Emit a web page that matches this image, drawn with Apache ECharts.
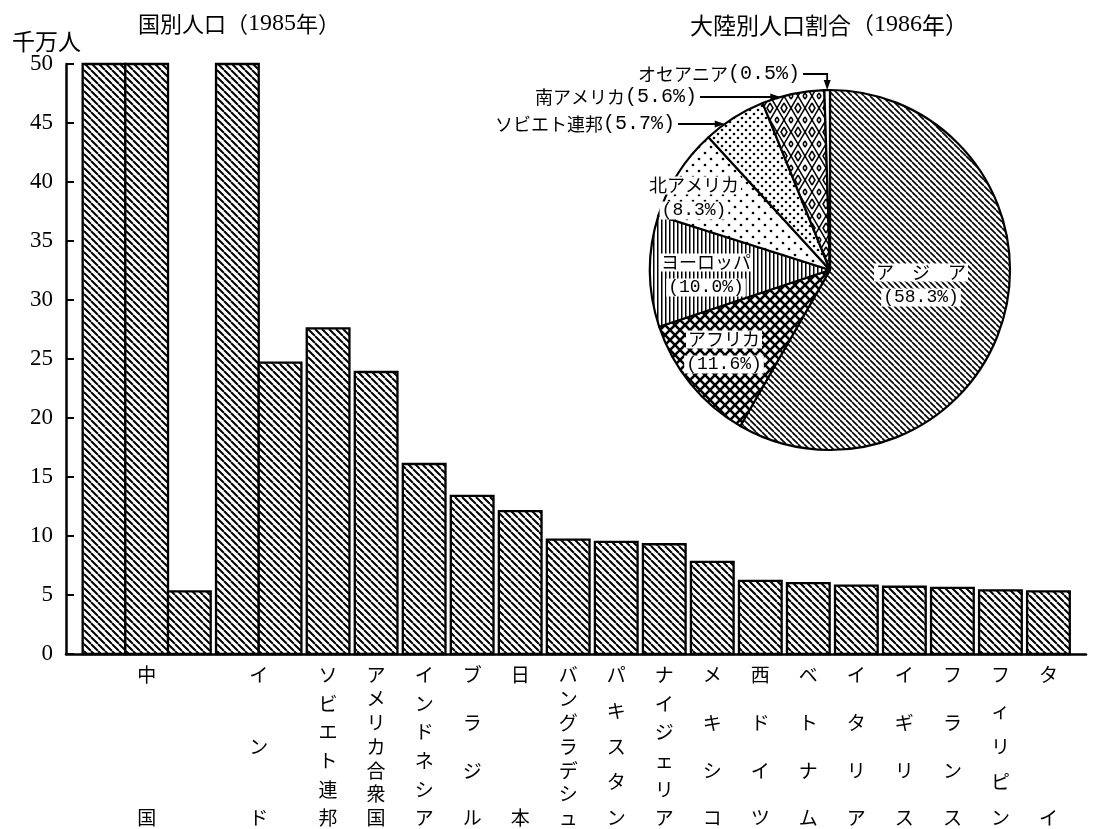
<!DOCTYPE html>
<html><head><meta charset="utf-8">
<script src="https://cdn.jsdelivr.net/npm/echarts@6/dist/echarts.min.js"></script>
<style>html,body{margin:0;padding:0;background:#fff}#c{width:1094px;height:829px}</style>
</head><body><div id="c"></div>
<script>
// ---------- data ----------
const countries = ['中国','インド','ソビエト連邦','アメリカ合衆国','インドネシア','ブラジル','日本','バングラデシュ','パキスタン','ナイジェリア','メキシコ','西ドイツ','ベトナム','イタリア','イギリス','フランス','フィリピン','タイ'];
const population = [105.3, 74.7, 27.6, 23.9, 16.1, 13.4, 12.1, 9.7, 9.5, 9.3, 7.8, 6.2, 6.0, 5.8, 5.7, 5.6, 5.4, 5.3]; // 千万人
const yMin = 0, yMax = 50, yStep = 5;
const continents = ['アジア','アフリカ','ヨーロッパ','北アメリカ','ソビエト連邦','南アメリカ','オセアニア'];
const shares = [58.3, 11.6, 10.0, 8.3, 5.7, 5.6, 0.5]; // %

// ---------- layout / style ----------
const CJK = '"Noto Sans CJK JP"';
const LEAD = 0.39, GAP = 0.125, TRAIL = 0.38;
const PIE_CX = 830, PIE_CY = 270, PIE_R = 180;
const pieLabelMode = ['in','in','in','in','side','side','down'];
const pieLabelOffset = [[91,15],[-106,82],[-124,5],[-136,-72],[-155,-146],[-133,-173],[-30,-196]];

function tile(w, h, draw) {
  const c = document.createElement('canvas'); c.width = w; c.height = h;
  const g = c.getContext('2d');
  g.fillStyle = '#fff'; g.fillRect(0, 0, w, h);
  g.strokeStyle = '#000'; g.fillStyle = '#000';
  draw(g, w, h);
  return { image: c, repeat: 'repeat' };
}
function back(g, s, lw) { g.lineWidth = lw; g.beginPath(); for (let k = -1; k <= 1; k++) { g.moveTo(k*s, 0); g.lineTo(k*s + s, s); } g.stroke(); }
function fwd(g, s, lw) { g.lineWidth = lw; g.beginPath(); for (let k = -1; k <= 1; k++) { g.moveTo(k*s, s); g.lineTo(k*s + s, 0); } g.stroke(); }
function dots(g, pts, r) { pts.forEach(p => { g.beginPath(); g.arc(p[0], p[1], r, 0, Math.PI*2); g.fill(); }); }

const barPattern = tile(7, 7, g => back(g, 7, 2.0));
const piePatterns = [
  tile(6, 6, g => back(g, 6, 1.6)),
  tile(10, 10, g => { back(g, 10, 2.6); fwd(g, 10, 2.6); }),
  tile(4, 4, g => g.fillRect(1, 0, 1.5, 4)),
  tile(12, 12, g => dots(g, [[3,3],[9,9]], 1.35)),
  tile(8, 8, g => dots(g, [[2,2],[6,6]], 1.3)),
  tile(14, 24, g => {
    g.lineWidth = 1.5; g.beginPath();
    g.moveTo(0,0); g.lineTo(14,24); g.moveTo(14,0); g.lineTo(0,24);
    g.moveTo(0,7); g.lineTo(3,12); g.lineTo(0,17);
    g.moveTo(14,7); g.lineTo(11,12); g.lineTo(14,17);
    g.moveTo(7,3); g.lineTo(9,0); g.moveTo(7,3); g.lineTo(5,0);
    g.moveTo(7,21); g.lineTo(9,24); g.moveTo(7,21); g.lineTo(5,24);
    g.stroke();
  }),
  '#ffffff'
];

// bar slots derived from data
const segCounts = population.map(v => Math.ceil(v / yMax));
const starts = []; let acc = LEAD;
segCounts.forEach(n => { starts.push(acc); acc += n + GAP; });
const X_MAX = acc - GAP + TRAIL;

// pie geometry derived from data
const total = shares.reduce((a, b) => a + b, 0);
const cum = []; { let c = 0; shares.forEach(s => { cum.push(c); c += s; }); }
const ang = p => p / total * Math.PI * 2;
const linePts = {}, arrows = [];
shares.forEach((s, i) => {
  const mode = pieLabelMode[i];
  if (mode === 'in') return;
  const lx = PIE_CX + pieLabelOffset[i][0], ly = PIE_CY + pieLabelOffset[i][1];
  if (mode === 'side') {
    const dy = ly - PIE_CY;
    const tx = PIE_CX - Math.sqrt(PIE_R*PIE_R - dy*dy);
    linePts[i] = [[lx + 3, ly], [(lx + tx)/2, ly], [tx - 4, ly]];
    arrows.push([[tx, ly], [tx - 10, ly - 3.5], [tx - 10, ly + 3.5]]);
  } else {
    const m = ang(cum[i] + s/2);
    const tx = PIE_CX + PIE_R*Math.sin(m), ty = PIE_CY - PIE_R*Math.cos(m);
    linePts[i] = [[lx + 3, ly], [tx, ly], [tx, ty - 4]];
    arrows.push([[tx, ty], [tx - 3.5, ty - 10], [tx + 3.5, ty - 10]]);
  }
});

const titleRich = { d: { fontSize: 24, fontFamily: '"Liberation Serif"', color: '#000' } };
const chart = echarts.init(document.getElementById('c'), null, { renderer: 'canvas' });
chart.setOption({
  animation: false,
  backgroundColor: '#fff',
  title: [
    { text: '国別人口（{d|1985}年）', left: 133, top: 7, textStyle: { fontSize: 22, fontWeight: 'normal', color: '#000', fontFamily: CJK, rich: titleRich } },
    { text: '大陸別人口割合（{d|1986}年）', left: 685, top: 8, textStyle: { fontSize: 23, fontWeight: 'normal', color: '#000', fontFamily: CJK, rich: titleRich } },
    { text: '千万人', left: 7, top: 25, textStyle: { fontSize: 23, fontWeight: 'normal', color: '#000', fontFamily: CJK } }
  ],
  grid: { left: 66, right: 8, top: 64, bottom: 175, containLabel: false },
  xAxis: {
    type: 'value', min: 0, max: X_MAX,
    axisLine: { show: true, onZero: false, lineStyle: { color: '#000', width: 2.5 } },
    axisTick: { show: false }, axisLabel: { show: false }, splitLine: { show: false }
  },
  yAxis: {
    type: 'value', min: yMin, max: yMax, interval: yStep,
    axisLine: { show: true, lineStyle: { color: '#000', width: 2.5 } },
    axisTick: { show: true, inside: true, length: 8, lineStyle: { color: '#000', width: 2 } },
    axisLabel: { color: '#000', fontSize: 23, fontFamily: '"Liberation Serif"', margin: 13 },
    splitLine: { show: false }
  },
  series: [
    {
      type: 'custom', clip: false, silent: true,
      data: population.map((v, i) => [i, v]),
      renderItem: function (params, api) {
        const i = params.dataIndex;
        const v = api.value(1);
        const n = segCounts[i];
        const children = [];
        for (let k = 0; k < n; k++) {
          const sv = Math.min(yMax, v - yMax*k);
          const tl = api.coord([starts[i] + k, sv]);
          const br = api.coord([starts[i] + k + 1, 0]);
          children.push({ type: 'rect', shape: { x: tl[0], y: tl[1], width: br[0] - tl[0], height: br[1] - tl[1] },
            style: { fill: barPattern, stroke: '#000', lineWidth: 2.3 } });
        }
        const base = api.coord([starts[i] + n/2, 0]);
        const chars = Array.from(countries[i]);
        const top = base[1] + 21, bottom = base[1] + 164;
        chars.forEach((ch, j) => {
          const y = chars.length === 1 ? top : top + (bottom - top) * j / (chars.length - 1);
          children.push({ type: 'text', style: { text: ch, x: base[0], y: y, align: 'center', verticalAlign: 'middle',
            textAlign: 'center', textVerticalAlign: 'middle', fontSize: 19, fontFamily: CJK, fill: '#000' } });
        });
        return { type: 'group', children: children };
      }
    },
    {
      type: 'pie', center: [PIE_CX, PIE_CY], radius: PIE_R, startAngle: 90, clockwise: true,
      silent: true, avoidLabelOverlap: false,
      itemStyle: { borderColor: '#000', borderWidth: 2.2 },
      labelLine: { show: true, lineStyle: { color: '#000', width: 1.8 } },
      data: continents.map((name, i) => ({
        name: name, value: shares[i],
        itemStyle: { color: piePatterns[i] },
        label: { position: pieLabelMode[i] === 'in' ? 'inside' : 'outside' },
        labelLine: { show: pieLabelMode[i] !== 'in' }
      })),
      label: {
        show: true, color: '#000',
        formatter: function (p) {
          const nm = Array.from(p.name).length <= 3 ? Array.from(p.name).join('　') : p.name;
          const pc = '(' + p.value.toFixed(1) + '%)';
          if (pieLabelMode[p.dataIndex] === 'in') return '{n|' + nm + '}\n{p|' + pc + '}';
          return '{o|' + nm + '}{q|' + pc + '}';
        },
        rich: {
          n: { fontSize: 18, fontFamily: CJK, backgroundColor: '#fff', lineHeight: 25, padding: [0, 2] },
          p: { fontSize: 18, fontFamily: '"Liberation Mono"', backgroundColor: '#fff', lineHeight: 25, padding: [0, 2] },
          o: { fontSize: 18, fontFamily: CJK },
          q: { fontSize: 20, fontFamily: '"Liberation Mono"' }
        }
      },
      labelLayout: function (params) {
        const i = params.dataIndex;
        const x = PIE_CX + pieLabelOffset[i][0], y = PIE_CY + pieLabelOffset[i][1];
        if (pieLabelMode[i] === 'in') return { x: x, y: y, align: 'center', verticalAlign: 'middle' };
        return { x: x, y: y, align: 'right', verticalAlign: 'middle', labelLinePoints: linePts[i] };
      }
    }
  ],
  graphic: arrows.map(pts => ({ type: 'polygon', shape: { points: pts }, style: { fill: '#000' }, z: 100 }))
});
</script></body></html>
